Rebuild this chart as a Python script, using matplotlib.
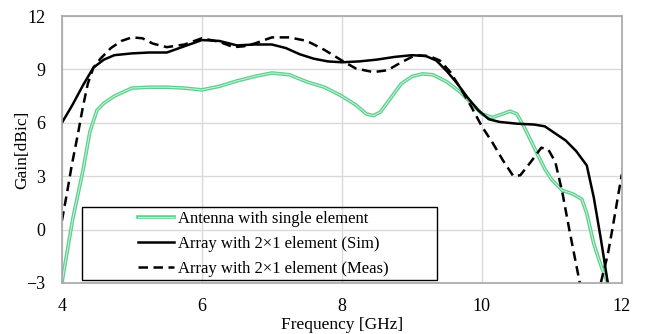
import matplotlib.pyplot as plt
from matplotlib.legend_handler import HandlerTuple
from matplotlib.patches import Rectangle

plt.rcParams['font.family'] = ['Liberation Serif', 'DejaVu Serif']

# single element antenna
freq_single = [4.0, 4.15, 4.3, 4.4, 4.5, 4.6, 4.75, 5.0, 5.25, 5.5, 5.75, 6.0,
               6.25, 6.5, 6.75, 7.0, 7.25, 7.5, 7.75, 8.0, 8.2, 8.35, 8.45, 8.55,
               8.7, 8.85, 9.0, 9.15, 9.3, 9.5, 9.7, 9.85, 10.0, 10.15, 10.3, 10.4,
               10.5, 10.6, 10.75, 10.9, 11.0, 11.15, 11.3, 11.43, 11.5, 11.6, 11.7, 11.8]
gain_single = [-3.0, 0.5, 3.3, 5.5, 6.7, 7.1, 7.5, 7.95, 8.0, 8.0, 7.95, 7.85,
               8.05, 8.35, 8.6, 8.8, 8.7, 8.3, 8.0, 7.5, 7.0, 6.5, 6.4, 6.6,
               7.4, 8.2, 8.6, 8.75, 8.7, 8.3, 7.7, 7.1, 6.5, 6.3, 6.5, 6.65,
               6.5, 5.8, 4.6, 3.4, 2.8, 2.2, 2.0, 1.7, 0.9, -0.8, -2.0, -3.0]

# 2x1 array, simulated
freq_sim = [4.0, 4.15, 4.3, 4.45, 4.6, 4.75, 5.0, 5.25, 5.5, 5.75, 6.0, 6.25,
            6.5, 6.75, 7.0, 7.2, 7.4, 7.6, 7.8, 8.0, 8.25, 8.5, 8.75, 9.0, 9.2,
            9.35, 9.5, 9.65, 9.8, 9.95, 10.1, 10.25, 10.5, 10.75, 10.9, 11.05,
            11.2, 11.35, 11.5, 11.6, 11.7, 11.8]
gain_sim = [6.0, 7.0, 8.1, 9.1, 9.55, 9.8, 9.9, 9.95, 9.95, 10.3, 10.65, 10.6,
            10.35, 10.4, 10.4, 10.2, 9.85, 9.6, 9.45, 9.4, 9.45, 9.55, 9.7, 9.8, 9.75,
            9.5, 8.9, 8.2, 7.4, 6.7, 6.2, 6.05, 5.95, 5.9, 5.8, 5.4,
            5.0, 4.4, 3.6, 1.8, -0.5, -3.0]

# 2x1 array, measured
freq_meas = [4.0, 4.07, 4.14, 4.23, 4.3, 4.37, 4.45, 4.55, 4.7, 4.85, 5.0, 5.15,
             5.3, 5.5, 5.75, 6.0, 6.25, 6.45, 6.6, 6.75, 7.0, 7.25, 7.5, 7.75,
             8.0, 8.2, 8.45, 8.65, 8.85, 9.05, 9.25, 9.4, 9.55, 9.7, 9.85, 10.0,
             10.15, 10.3, 10.45, 10.55, 10.7, 10.85, 10.95, 11.05, 11.15, 11.25,
             11.3, 11.4, 11.55, 11.7, 11.8, 11.86, 11.93, 12.0]
gain_meas = [0.5, 2.0, 3.6, 5.4, 6.9, 8.2, 9.1, 9.6, 10.2, 10.6, 10.8, 10.75,
             10.45, 10.25, 10.4, 10.75, 10.55, 10.25, 10.3, 10.45, 10.8, 10.8, 10.6, 10.1,
             9.5, 9.05, 8.85, 8.95, 9.4, 9.8, 9.75, 9.5, 8.85, 7.9, 6.9, 5.8,
             4.9, 3.9, 3.0, 3.05, 3.8, 4.6, 4.5, 3.8, 2.1, 0.0,
             -1.0, -3.0, -4.5, -3.0, -1.4, -0.1, 1.5, 3.1]

fig = plt.figure(figsize=(6.45, 3.34), dpi=100)
ax = fig.add_axes([0.096, 0.153, 0.868, 0.799])

g1, = ax.plot(freq_single, gain_single, color='#5dcf8e', lw=2.6)
g2, = ax.plot(freq_single, gain_single, color='#c3f0d3', lw=0.8)
s, = ax.plot(freq_sim, gain_sim, color='black', lw=1.8)
m, = ax.plot(freq_meas, gain_meas, color='black', lw=1.8, dashes=(3.8, 2.2))

ax.set_xlim(4, 12)
ax.set_ylim(-3, 12)
ax.set_xticks([4, 6, 8, 10, 12])
ax.set_yticks([-3, 0, 3, 6, 9, 12])
ax.grid(color='#d9d9d9', lw=1)
ax.set_axisbelow(True)
for sp in ax.spines.values():
    sp.set_color('#a6a6a6')
    sp.set_linewidth(1.2)
ax.tick_params(axis='x', length=0, pad=11, labelsize=13)
ax.tick_params(axis='y', length=0, pad=12, labelsize=13)

ax.set_xlabel('Frequency [GHz]', fontsize=12.5, labelpad=1)
ax.set_ylabel('Gain[dBic]', fontsize=12.5, labelpad=-3)

# legend box is wider than its content in the original
ax.add_patch(Rectangle((0.036, 0.011), 0.634, 0.274, transform=ax.transAxes,
                       fill=False, edgecolor='black', lw=1, zorder=5))
ax.legend([(g1, g2), s, m],
          ['Antenna with single element', 'Array with 2×1 element (Sim)',
           'Array with 2×1 element (Meas)'],
          handler_map={tuple: HandlerTuple(ndivide=1, pad=0)},
          loc='lower left', bbox_to_anchor=(0.118, -0.015), frameon=False,
          fontsize=12, handlelength=2.15, handletextpad=0.25, labelspacing=0.55,
          borderaxespad=0.2)

plt.savefig('out.png', dpi=100)
